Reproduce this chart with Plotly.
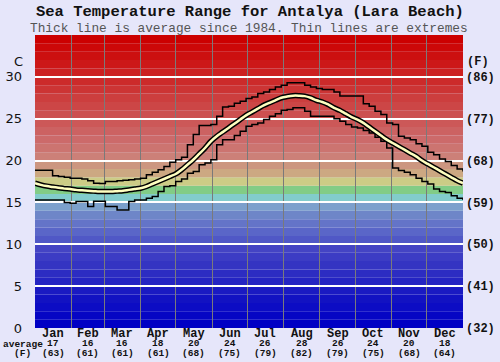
import plotly.graph_objects as go

# ---------------- data ----------------
days = list(range(0, 366, 5))  # day of year sampled every 5 days (last = 365)
days[-1] = 365

avg_c = [17.3, 17.1, 16.95, 16.85, 16.75, 16.65, 16.6, 16.5, 16.45, 16.4, 16.35, 16.3, 16.3,
         16.3, 16.35, 16.4, 16.5, 16.6, 16.7, 16.9, 17.2, 17.5, 17.8, 18.1, 18.4, 18.9,
         19.5, 20.1, 20.8, 21.5, 22.3, 22.9, 23.4, 23.9, 24.4, 24.9, 25.4, 25.8, 26.2,
         26.6, 26.9, 27.2, 27.5, 27.65, 27.75, 27.75, 27.7, 27.5, 27.2, 27.0, 26.7, 26.3,
         26.0, 25.6, 25.2, 24.9, 24.5, 24.0, 23.5, 23.0, 22.5, 22.1, 21.7, 21.3, 20.9,
         20.5, 20.0, 19.6, 19.2, 18.8, 18.4, 18.0, 17.6, 17.3]

max_c = [18.85, 18.85, 18.85, 18.2, 18.1, 18.0, 17.9, 17.9, 17.8, 17.6, 17.3, 17.25, 17.5,
         17.5, 17.6, 17.65, 17.7, 17.8, 17.9, 18.3, 18.6, 18.9, 19.3, 19.8, 20.1, 20.4,
         21.9, 23.1, 24.2, 24.2, 24.3, 25.3, 26.4, 26.5, 26.85, 27.1, 27.4, 27.6, 28.0,
         28.2, 28.5, 28.8, 29.0, 29.3, 29.3, 29.3, 29.0, 28.8, 28.6, 28.5, 28.5, 28.2,
         27.7, 27.7, 27.7, 27.7, 26.8, 26.5, 25.9, 25.5, 24.5, 24.3, 22.9, 22.7, 22.5,
         22.0, 21.7, 21.0, 20.7, 20.2, 19.9, 19.4, 19.0, 18.7]

min_c = [15.3, 15.3, 15.3, 15.3, 15.3, 15.0, 14.9, 15.1, 15.1, 14.5, 15.15, 15.15, 14.5,
         14.5, 14.1, 14.1, 15.1, 15.3, 15.3, 15.5, 15.7, 16.3, 16.9, 17.0, 17.5, 17.8,
         18.5, 18.7, 19.5, 19.7, 20.1, 21.9, 22.5, 22.5, 23.0, 23.5, 24.1, 24.3, 24.5,
         24.9, 25.3, 25.6, 26.0, 26.1, 26.3, 26.3, 25.9, 25.3, 25.3, 25.3, 25.3, 25.0,
         24.7, 24.3, 24.0, 23.9, 23.6, 23.3, 22.8, 22.3, 21.5, 19.1, 18.8, 18.6, 18.3,
         17.9, 17.5, 17.2, 16.6, 16.3, 16.2, 15.8, 15.5, 15.3]

months = ["Jan", "Feb", "Mar", "Apr", "May", "Jun", "Jul", "Aug", "Sep", "Oct", "Nov", "Dec"]
month_days = [31, 28, 31, 30, 31, 30, 31, 31, 30, 31, 30, 31]
month_avg_c = [17, 16, 16, 18, 20, 24, 26, 28, 26, 24, 20, 18]
month_avg_f = [63, 61, 61, 61, 68, 75, 79, 82, 79, 75, 68, 64]

c_ticks = [0, 5, 10, 15, 20, 25, 30]
f_ticks = ["(32)", "(41)", "(50)", "(59)", "(68)", "(77)", "(86)"]

# one colour per 1 degree C band, from 0 to 35
band_colors = [
    "#0000c4", "#0606c4", "#0c0cc4", "#1212c2", "#1a1ac2",
    "#2424c2", "#2c2cc2", "#3434c2", "#3c3cc4", "#4444c4",
    "#5058c6", "#5a66c8", "#6474c8", "#6e86c8", "#7ca0cc",
    "#82cccc", "#82cc86", "#cccc86", "#cca882", "#cc9680",
    "#cc8078", "#cc7470", "#cc6a6a", "#cc6262", "#cc5858",
    "#cc5050", "#cc4646", "#cc3e3e", "#cc3434", "#cc2a2a",
    "#cc2020", "#cc1818", "#cc1010", "#cc0808", "#cc0000",
]

# ---------------- figure ----------------
bounds = [0]
for m in month_days:
    bounds.append(bounds[-1] + m)
centers = [(bounds[i] + bounds[i + 1]) / 2 for i in range(12)]

fig = go.Figure()

shapes = []
for i, col in enumerate(band_colors):
    shapes.append(dict(type="rect", xref="paper", yref="y", x0=0, x1=1, y0=i, y1=i + 1,
                       fillcolor=col, line=dict(width=0), layer="below"))

fig.add_trace(go.Scatter(x=days, y=max_c, mode="lines", line=dict(color="black", width=1.5, shape="hv"),
                         hoverinfo="skip", showlegend=False))
fig.add_trace(go.Scatter(x=days, y=min_c, mode="lines", line=dict(color="black", width=1.5, shape="hv"),
                         hoverinfo="skip", showlegend=False))
fig.add_trace(go.Scatter(x=days, y=avg_c, mode="lines", line=dict(color="black", width=5.5, shape="spline"),
                         hoverinfo="skip", showlegend=False))
fig.add_trace(go.Scatter(x=days, y=avg_c, mode="lines", line=dict(color="#ffffc0", width=2.5, shape="spline"),
                         hoverinfo="skip", showlegend=False))
fig.add_trace(go.Scatter(x=[0], y=[0], yaxis="y2", mode="markers", marker=dict(opacity=0),
                         hoverinfo="skip", showlegend=False))

mono = "Liberation Mono, Courier New, monospace"
annotations = [
    dict(text="<b>Sea Temperature Range for Antalya (Lara Beach)</b>", xref="paper", yref="paper",
         x=(250 - 35) / 428, y=(328 - 12) / 293, xanchor="center", yanchor="middle", showarrow=False,
         font=dict(family=mono, size=15.5, color="#111")),
    dict(text="Thick line is average since 1984. Thin lines are extremes", xref="paper", yref="paper",
         x=(249 - 35) / 428, y=(328 - 28) / 293, xanchor="center", yanchor="middle", showarrow=False,
         font=dict(family=mono, size=12.8, color="#555")),
    dict(text="C", xref="paper", yref="paper", x=(18 - 35) / 428, y=(328 - 61) / 293,
         xanchor="center", yanchor="middle", showarrow=False,
         font=dict(family="DejaVu Sans, Verdana, sans-serif", size=13, color="#111")),
    dict(text="<b>(F)</b>", xref="paper", yref="paper", x=(478 - 35) / 428, y=(328 - 62) / 293,
         xanchor="center", yanchor="middle", showarrow=False,
         font=dict(family=mono, size=12, color="#111")),
    dict(text="<b>average</b>", xref="paper", yref="paper", x=(23 - 35) / 428, y=(328 - 344) / 293,
         xanchor="center", yanchor="middle", showarrow=False,
         font=dict(family=mono, size=9.5, color="#111")),
    dict(text="<b>(F)</b>", xref="paper", yref="paper", x=(22 - 35) / 428, y=(328 - 353) / 293,
         xanchor="center", yanchor="middle", showarrow=False,
         font=dict(family=mono, size=9.5, color="#111")),
]
for i in range(12):
    annotations.append(dict(text="<b>%s</b>" % months[i], xref="x", yref="paper", x=centers[i],
                            y=(328 - 333.5) / 293, xanchor="center", yanchor="middle", showarrow=False,
                            font=dict(family=mono, size=12, color="#111")))
    annotations.append(dict(text="<b>%d</b>" % month_avg_c[i], xref="x", yref="paper", x=centers[i],
                            y=(328 - 343.5) / 293, xanchor="center", yanchor="middle", showarrow=False,
                            font=dict(family=mono, size=9.5, color="#111")))
    annotations.append(dict(text="<b>(%d)</b>" % month_avg_f[i], xref="x", yref="paper", x=centers[i],
                            y=(328 - 353) / 293, xanchor="center", yanchor="middle", showarrow=False,
                            font=dict(family=mono, size=9.5, color="#111")))

fig.update_layout(
    width=500, height=362,
    margin=dict(l=35, r=37, t=35, b=34, pad=0, autoexpand=False),
    paper_bgcolor="#e6e6fa",
    plot_bgcolor="#e6e6fa",
    shapes=shapes,
    annotations=annotations,
    xaxis=dict(range=[0, 365], showticklabels=False, showgrid=False, zeroline=False, ticks="",
               showline=False, automargin=False,
               minor=dict(tickmode="array", tickvals=bounds[1:-1], showgrid=True,
                          gridcolor="#7a7a7a", gridwidth=1, ticks="")),
    yaxis=dict(range=[0, 35], tickmode="array", tickvals=c_ticks, ticktext=[str(v) for v in c_ticks],
               showgrid=False, zeroline=False, showline=False, ticks="", ticklabelstandoff=12,
               automargin=False,
               tickfont=dict(family="DejaVu Sans, Verdana, sans-serif", size=13, color="#111"),
               minor=dict(tickmode="array", tickvals=c_ticks[1:], showgrid=True,
                          gridcolor="#ffffff", gridwidth=2, ticks="")),
    yaxis2=dict(range=[0, 35], overlaying="y", side="right", tickmode="array", tickvals=c_ticks,
                ticktext=f_ticks, showgrid=False, zeroline=False, showline=False, ticks="",
                ticklabelstandoff=2, automargin=False,
                tickfont=dict(family=mono, size=12, color="#111", weight="bold")),
)

fig.write_html(
    "out.html",
    config={"displayModeBar": False},
    post_script="document.body.style.margin='0';document.body.style.padding='0';"
                "document.body.style.background='#e6e6fa';window.dispatchEvent(new Event('resize'));",
)
